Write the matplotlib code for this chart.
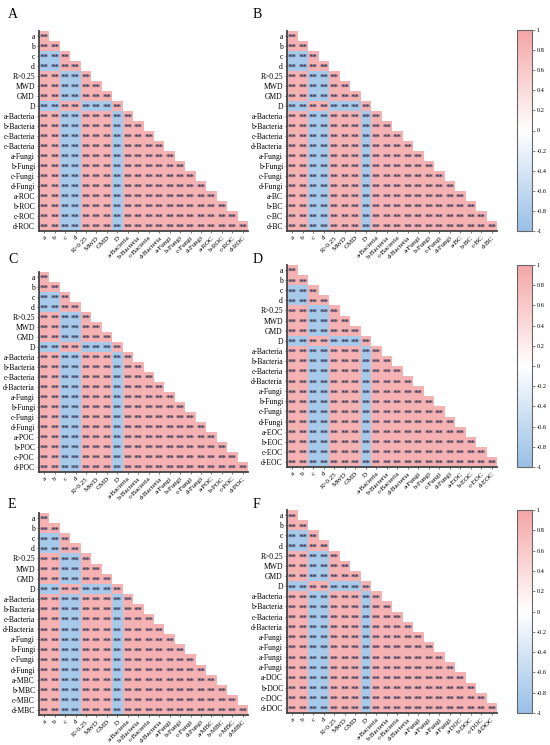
import matplotlib
matplotlib.use("Agg")
import matplotlib.pyplot as plt
import numpy as np
from matplotlib.colors import LinearSegmentedColormap

matplotlib.rc("font", family=["Liberation Serif", "DejaVu Serif"])

# Variables shared by all panels (first 16 rows/cols)
baseLabels = ["a", "b", "c", "d", "R>0.25", "MWD", "GMD", "D",
              "a-Bacteria", "b-Bacteria", "c-Bacteria", "d-Bacteria",
              "a-Fungi", "b-Fungi", "c-Fungi", "d-Fungi"]
# Sign of each variable's correlation with "a"
baseSigns = [1, 1, -1, -1, 1, 1, 1, -1, 1, 1, 1, 1, 1, 1, 1, 1]
carbonSigns = [1, 1, 1, 1]

panelLetters = ["A", "B", "C", "D", "E", "F"]
carbonNames = ["ROC", "BC", "POC", "EOC", "MBC", "DOC"]
# Row labels differ slightly from column labels in some panels (as printed)
rowFix = {"A": {11: "c-Bacteria"},
          "F": {13: "a-Fungi", 14: "a-Fungi", 15: "a-Fungi"}}
colFix = {"F": {13: "a-Fungi", 14: "a-Fungi", 15: "a-Fungi"}}

# Every cell shows the same strong shade
offDiagValue = 0.85
cbarTicks = [1, 0.8, 0.6, 0.4, 0.2, 0, -0.2, -0.4, -0.6, -0.8, -1]

cmap = LinearSegmentedColormap.from_list(
    "rb", ["#98BFE6", "#FFFFFF", "#F4A5A5"])

W, H = 550, 745
fig = plt.figure(figsize=(W / 100, H / 100), dpi=100)

# axes boxes in pixels: (left, top, right, bottom)
boxes = [(39, 31, 248, 231), (287, 31, 497, 231),
         (39, 272, 248, 472), (287, 265, 497, 467),
         (39, 513, 248, 715), (287, 510, 497, 713)]
cbarBoxes = [(517, 30, 532, 231), (517, 265, 532, 467), (517, 510, 532, 713)]
letterPos = [(8, 14), (253, 14), (8, 260), (253, 260), (8, 505), (253, 505)]


def fracBox(b):
    l, t, r, bt = b
    return [l / W, 1 - bt / H, (r - l) / W, (bt - t) / H]


signs = np.array(baseSigns + carbonSigns)
n = len(signs)
for k, letter in enumerate(panelLetters):
    cname = carbonNames[k]
    cols = baseLabels + [p + "-" + cname for p in ["a", "b", "c", "d"]]
    rows = list(cols)
    for i, v in rowFix.get(letter, {}).items():
        rows[i] = v
    for i, v in colFix.get(letter, {}).items():
        cols[i] = v

    corr = np.outer(signs, signs) * offDiagValue
    mask = np.triu(np.ones((n, n), dtype=bool), k=1)
    data = np.ma.masked_array(corr, mask)

    ax = fig.add_axes(fracBox(boxes[k]))
    mesh = ax.pcolormesh(np.arange(n + 1), np.arange(n + 1), data,
                         cmap=cmap, vmin=-1, vmax=1)
    for i in range(n):
        for j in range(i + 1):
            ax.text(j + 0.5, i + 0.72, "**", ha="center", va="center",
                    fontsize=6.5, fontweight="bold", color="#3A3A58")
    ax.set_xlim(0, n)
    ax.set_ylim(n, 0)
    ax.set_xticks(np.arange(n) + 0.5)
    ax.set_xticklabels(cols, rotation=45, ha="right", rotation_mode="anchor",
                       fontsize=5)
    ax.set_yticks(np.arange(n) + 0.5)
    ax.set_yticklabels(rows, fontsize=5.5)
    ax.tick_params(length=1.5, width=0.5, pad=1.5, color="#444444")
    for s in ["top", "right"]:
        ax.spines[s].set_visible(False)
    for s in ["left", "bottom"]:
        ax.spines[s].set_linewidth(1.3)
        ax.spines[s].set_color("#444444")

    fig.text(letterPos[k][0] / W, 1 - letterPos[k][1] / H, letter,
             fontsize=10, va="center", ha="left")

    if k % 2 == 1:
        cax = fig.add_axes(fracBox(cbarBoxes[k // 2]))
        cb = fig.colorbar(mesh, cax=cax, ticks=cbarTicks)
        cb.ax.set_yticklabels([f"{t:g}" for t in cbarTicks], fontsize=4.5)
        cb.ax.tick_params(length=2, width=0.5, pad=1.5, color="#555555")
        cb.outline.set_edgecolor("#666666")
        cb.outline.set_linewidth(0.8)

fig.savefig("out.png", dpi=100)
